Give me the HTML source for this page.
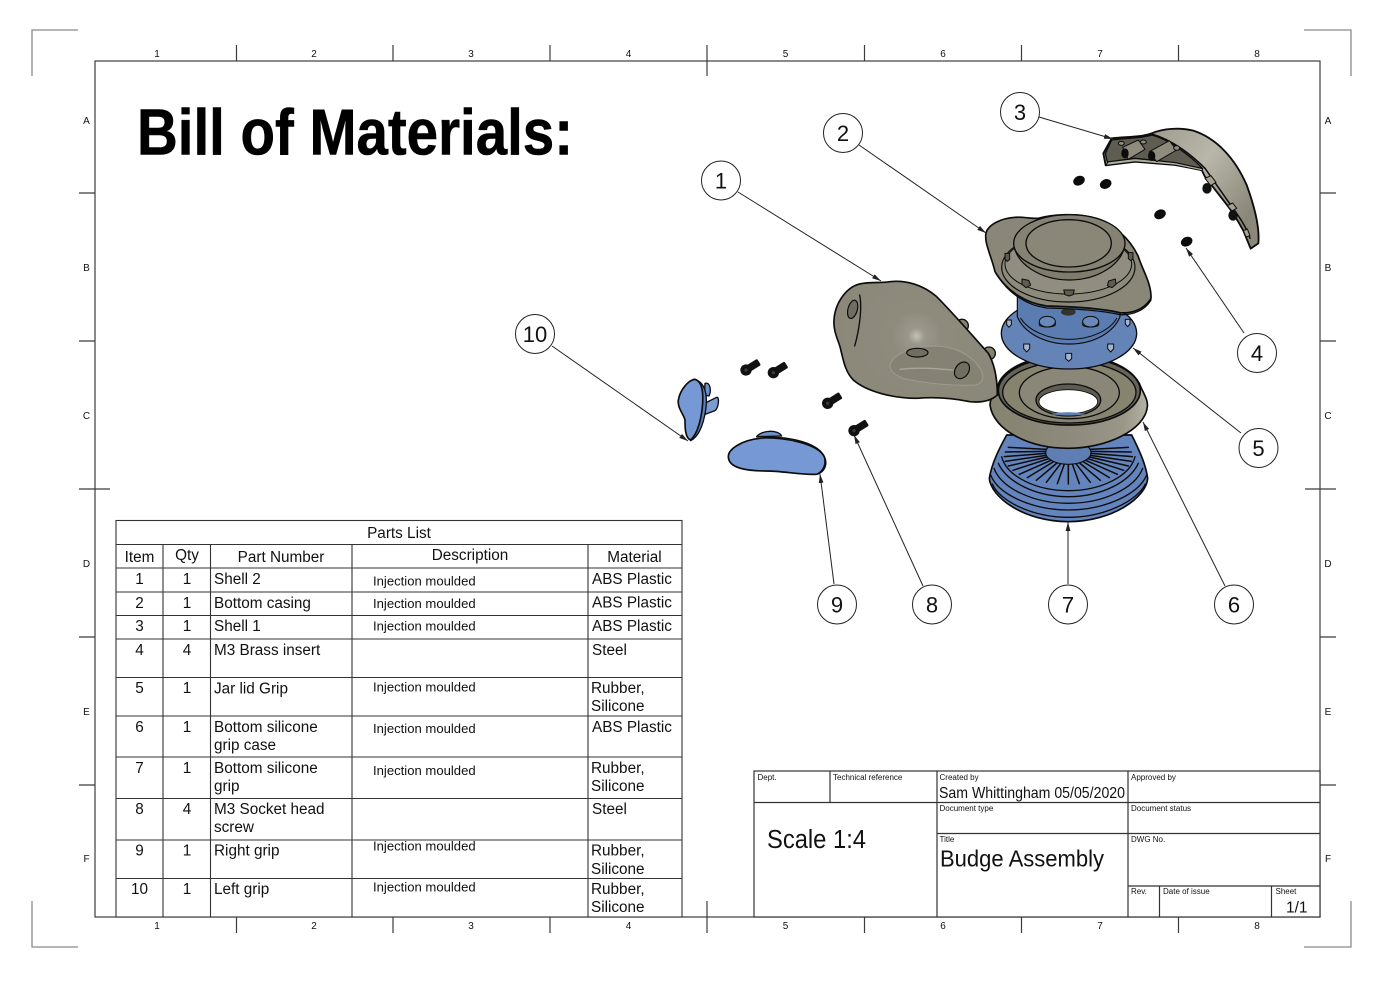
<!DOCTYPE html>
<html><head><meta charset="utf-8"><style>
html,body{margin:0;padding:0;background:#fff}
svg{display:block}
text{font-family:"Liberation Sans",sans-serif;fill:#111}
</style></head><body>
<svg width="1400" height="990" viewBox="0 0 1400 990" xmlns="http://www.w3.org/2000/svg">
<defs>
<radialGradient id="g1" gradientUnits="userSpaceOnUse" cx="770" cy="738" r="300"><stop offset="0" stop-color="#c4c2b6"/><stop offset=".08" stop-color="#9b988b"/><stop offset=".25" stop-color="#8e8b7d"/><stop offset="1" stop-color="#8a8779"/></radialGradient>
<linearGradient id="g2" x1="0" y1="0" x2="1" y2="0"><stop offset="0" stop-color="#85826f"/><stop offset=".5" stop-color="#8d8a7c"/><stop offset=".85" stop-color="#9a9789"/><stop offset="1" stop-color="#b4b2a4"/></linearGradient>
<linearGradient id="g3" x1="0" y1="0" x2="1" y2=".6"><stop offset="0" stop-color="#8f8c7e"/><stop offset=".6" stop-color="#b9b7aa"/><stop offset="1" stop-color="#8b8879"/></linearGradient>
<marker id="a" markerWidth="9" markerHeight="6" refX="9" refY="3" orient="auto" markerUnits="userSpaceOnUse"><path d="M0,.6 L9,3 L0,5.4Z" fill="#222"/></marker>
</defs>
<rect width="1400" height="990" fill="#fff"/>

<!-- crop marks -->
<g fill="none" stroke="#8a8a8a" stroke-width="1.3">
<path d="M32,76V30H78"/><path d="M1304,30H1351V76"/><path d="M32,901V947H78"/><path d="M1304,947H1351V901"/>
</g>
<!-- frame -->
<g fill="none" stroke="#3c3c3c" stroke-width="1.2">
<rect x="95" y="61" width="1225" height="856"/>
<path d="M236.500,45V61M393,45V61M550,45V61M707,45V76M864.500,45V61M1021.500,45V61M1178.500,45V61"/>
<path d="M236.500,917V933M393,917V933M550,917V933M707,901V933M864.500,917V933M1021.500,917V933M1178.500,917V933"/>
<path d="M79,193H95M79,341H95M79,489H110M79,637H95M79,785H95"/>
<path d="M1320,193H1336M1320,341H1336M1305,489H1336M1320,637H1336M1320,785H1336"/>
</g>
<g font-size="10" text-anchor="middle">
<text x="157" y="57">1</text><text x="314" y="57">2</text><text x="471" y="57">3</text><text x="628.500" y="57">4</text><text x="785.500" y="57">5</text><text x="943" y="57">6</text><text x="1100" y="57">7</text><text x="1257" y="57">8</text>
<text x="157" y="929">1</text><text x="314" y="929">2</text><text x="471" y="929">3</text><text x="628.500" y="929">4</text><text x="785.500" y="929">5</text><text x="943" y="929">6</text><text x="1100" y="929">7</text><text x="1257" y="929">8</text>
<text x="86.500" y="124">A</text><text x="86.500" y="271">B</text><text x="86.500" y="419">C</text><text x="86.500" y="567">D</text><text x="86.500" y="715">E</text><text x="86.500" y="862">F</text>
<text x="1328" y="124">A</text><text x="1328" y="271">B</text><text x="1328" y="419">C</text><text x="1328" y="567">D</text><text x="1328" y="715">E</text><text x="1328" y="862">F</text>
</g>

<text x="137" y="154.500" font-size="65" font-weight="700" textLength="436" lengthAdjust="spacingAndGlyphs" style="fill:#000;stroke:#000;stroke-width:.6">Bill of Materials:</text>

<!-- parts list -->
<g fill="none" stroke="#333" stroke-width="1.1">
<rect x="116" y="520.500" width="566" height="396.500" fill="#fff"/>
<path d="M116,544.500H682M116,568H682M116,592H682M116,615.500H682M116,639H682M116,677.500H682M116,716H682M116,757H682M116,798.500H682M116,840H682M116,878.500H682"/>
<path d="M163,544.500V917M210.500,544.500V917M352,544.500V917M588,544.500V917"/>
</g>
<g font-size="15.300">
<text x="399" y="538" text-anchor="middle">Parts List</text>
<text x="139.500" y="562" text-anchor="middle">Item</text><text x="187" y="560" text-anchor="middle">Qty</text><text x="281" y="562" text-anchor="middle">Part Number</text><text x="470" y="560" text-anchor="middle">Description</text><text x="634.500" y="562" text-anchor="middle">Material</text>
<g text-anchor="middle">
<text x="139.500" y="584">1</text><text x="187" y="584">1</text>
<text x="139.500" y="608">2</text><text x="187" y="608">1</text>
<text x="139.500" y="631">3</text><text x="187" y="631">1</text>
<text x="139.500" y="655">4</text><text x="187" y="655">4</text>
<text x="139.500" y="693">5</text><text x="187" y="693">1</text>
<text x="139.500" y="732">6</text><text x="187" y="732">1</text>
<text x="139.500" y="773">7</text><text x="187" y="773">1</text>
<text x="139.500" y="814">8</text><text x="187" y="814">4</text>
<text x="139.500" y="855.500">9</text><text x="187" y="855.500">1</text>
<text x="139.500" y="894">10</text><text x="187" y="894">1</text>
</g>
<text x="214" y="584">Shell 2</text><text x="214" y="608">Bottom casing</text><text x="214" y="631">Shell 1</text><text x="214" y="655">M3 Brass insert</text><text x="214" y="693.500">Jar lid Grip</text>
<text x="214" y="732">Bottom silicone</text><text x="214" y="750">grip case</text><text x="214" y="773">Bottom silicone</text><text x="214" y="791">grip</text><text x="214" y="814">M3 Socket head</text><text x="214" y="832">screw</text><text x="214" y="855.500">Right grip</text><text x="214" y="894">Left grip</text>
<text x="592" y="584">ABS Plastic</text><text x="592" y="607.500">ABS Plastic</text><text x="592" y="631">ABS Plastic</text><text x="592" y="655">Steel</text>
<text x="591" y="693">Rubber,</text><text x="591" y="711">Silicone</text><text x="592" y="732">ABS Plastic</text><text x="591" y="773">Rubber,</text><text x="591" y="791">Silicone</text><text x="592" y="814">Steel</text>
<text x="591" y="855.500">Rubber,</text><text x="591" y="874">Silicone</text><text x="591" y="894">Rubber,</text><text x="591" y="912">Silicone</text>
</g>
<g font-size="13.100">
<text x="373" y="585.500">Injection moulded</text><text x="373" y="608">Injection moulded</text><text x="373" y="630.500">Injection moulded</text><text x="373" y="691.500">Injection moulded</text><text x="373" y="733">Injection moulded</text><text x="373" y="775">Injection moulded</text><text x="373" y="850.500">Injection moulded</text><text x="373" y="891.500">Injection moulded</text>
</g>

<!-- title block -->
<g fill="none" stroke="#333" stroke-width="1.2">
<rect x="754" y="771" width="566" height="146" fill="#fff"/>
<path d="M754,802.500H1320M937,833.500H1320M1128,886H1320M830,771V802.500M937,771V917M1128,771V917M1159.500,886V917M1271.500,886V917"/>
</g>
<g font-size="8" fill="#333">
<text x="757.500" y="780">Dept.</text><text x="833" y="780">Technical reference</text><text x="939.500" y="780">Created by</text><text x="1131" y="780">Approved by</text>
<text x="939.500" y="811">Document type</text><text x="1131" y="811">Document status</text><text x="939.500" y="842">Title</text><text x="1131" y="842">DWG No.</text>
<text x="1131" y="894">Rev.</text><text x="1163" y="894">Date of issue</text><text x="1275.500" y="894">Sheet</text>
</g>
<text x="939" y="798" font-size="16" textLength="186" lengthAdjust="spacingAndGlyphs">Sam Whittingham 05/05/2020</text>
<text x="767" y="848" font-size="25.500" textLength="99" lengthAdjust="spacingAndGlyphs">Scale 1:4</text>
<text x="940" y="866.500" font-size="23" textLength="164" lengthAdjust="spacingAndGlyphs">Budge Assembly</text>
<text x="1286" y="912.500" font-size="15.500">1/1</text>

<!-- part 3, inserts, part 7, 6, 5, 2 : z2 coordinates -->
<g transform="translate(960,110) scale(.33333)" stroke="#0c0c0c" stroke-linejoin="round" stroke-linecap="round">
<!-- part 3 -->
<path d="M455,85 C500,80 545,82 575,70 C610,55 660,52 700,62 C770,85 825,145 860,225 C880,280 900,350 895,400 L872,416 L850,362 C835,335 820,310 805,290 L735,200 L725,180 L645,165 L525,155 L437,166 L430,130Z" fill="url(#g3)" stroke-width="5.500"/>
<path d="M455,90 C500,84 550,84 575,75 C620,85 690,135 728,176 L645,158 L525,145 L442,156 L436,130Z" fill="#5f5d52" stroke-width="4"/>
<path d="M575,72 C640,90 700,140 735,175 L805,275 C830,310 860,350 870,385" fill="none" stroke-width="4.500"/>
<path d="M445,156 L525,146 L645,158 L728,176 L726,182 L645,165 L525,155 L437,166Z" fill="#b0ae9f" stroke-width="2.500"/>
<g stroke-width="3" fill="#8f8c7e">
<path d="M488,112 L535,90 L555,118 L505,148Z"/><path d="M568,125 L628,92 L650,120 L590,155Z"/>
<ellipse cx="484" cy="100" rx="9" ry="6"/><ellipse cx="550" cy="96" rx="9" ry="6"/><ellipse cx="650" cy="114" rx="9" ry="7"/>
</g>
<ellipse cx="495" cy="130" rx="11" ry="15" fill="#0c0c0c" stroke="none"/><ellipse cx="575" cy="138" rx="11" ry="15" fill="#0c0c0c" stroke="none"/>
<g fill="#a6a395" stroke-width="3"><path d="M735,205 l18,-8 l15,20 l-16,10Z"/><path d="M802,287 l16,-8 l12,16 l-14,8Z"/><path d="M850,362 l12,-5 l8,20 l-12,4Z"/></g>
<g fill="#111" stroke="none"><ellipse cx="741" cy="235" rx="14" ry="16"/><ellipse cx="819" cy="316" rx="14" ry="16"/></g>
<!-- inserts -->
<g fill="#0c0c0c" stroke="none">
<ellipse cx="357" cy="212" rx="18" ry="14" transform="rotate(-25 357 212)"/><ellipse cx="437" cy="222" rx="18" ry="14" transform="rotate(-25 437 222)"/><ellipse cx="600" cy="313" rx="18" ry="14" transform="rotate(-25 600 313)"/><ellipse cx="680" cy="395" rx="18" ry="14" transform="rotate(-25 680 395)"/>
</g>

<!-- part 7 -->
<path d="M88,1105 C95,1060 118,1015 140,975 L515,975 C535,1015 557,1060 563,1105 C560,1160 460,1235 325,1235 C190,1235 92,1160 88,1105Z" fill="#6484bd" stroke-width="5"/>
<g fill="none" stroke-width="4">
<path d="M97,1122 C120,1175 220,1222 325,1222 C430,1222 530,1175 556,1122"/>
<path d="M92,1095 C115,1155 220,1200 325,1200 C430,1200 535,1155 560,1095"/>
<path d="M102,1075 C125,1135 220,1180 325,1180 C430,1180 525,1135 548,1075"/>
<path d="M115,1060 C140,1115 225,1160 325,1160 C425,1160 510,1115 535,1060"/>
<path d="M125,1040 C140,1100 230,1142 325,1142 C420,1142 510,1100 525,1040"/>
</g>
<g stroke-width="4.500" fill="none">
<path d="M393,1030L517,1040M392,1036L514,1054M389,1041L505,1068M384,1046L491,1081M377,1051L472,1093M369,1055L448,1103M359,1059L421,1111M348,1061L391,1117M337,1062L358,1121M325,1063L325,1122M313,1062L292,1121M302,1061L259,1117M291,1059L229,1111M281,1055L202,1103M273,1051L178,1093M266,1046L159,1081M261,1041L145,1068M258,1036L136,1054M257,1030L133,1040M392,1024L514,1026M258,1024L136,1026M390,1018L505,1012M260,1018L145,1012"/>
</g>
<ellipse cx="325" cy="1028" rx="68" ry="35" fill="#5f7eb3" stroke-width="3.500"/>
<!-- part 6 -->
<path d="M118,815 C150,760 240,735 325,735 C410,735 510,760 540,825 C550,850 565,870 562,890 C555,960 440,1015 325,1015 C205,1015 100,960 90,885 C90,860 110,840 118,815Z" fill="url(#g2)" stroke-width="5"/>
<ellipse cx="328" cy="842" rx="213" ry="103" fill="#65635a" stroke-width="5"/>
<ellipse cx="328" cy="847" rx="200" ry="92" fill="#86836f" stroke-width="4"/>
<ellipse cx="328" cy="848" rx="150" ry="78" fill="#8a8779" stroke-width="4"/>
<ellipse cx="325" cy="870" rx="97" ry="48" fill="#5e5c50" stroke-width="4"/>
<ellipse cx="325" cy="875" rx="88" ry="36" fill="#fff" stroke-width="2.500"/>
<path d="M275,912 C300,905 350,905 375,912 C360,918 290,918 275,912Z" fill="#5f7eb3" stroke="none"/>
<!-- part 5 -->
<ellipse cx="327" cy="670" rx="203" ry="107" fill="#6484b8" stroke-width="4"/>
<path d="M172,540 L172,620 C190,665 250,702 327,702 C405,702 462,665 480,620 L480,540Z" fill="#5b7cb0" stroke-width="3.500"/>
<path d="M182,625 C205,660 260,688 327,688 C395,688 450,660 470,625" fill="none" stroke-width="3"/>
<g fill="#6a89bb" stroke-width="3"><ellipse cx="262" cy="635" rx="24" ry="16"/><ellipse cx="392" cy="635" rx="24" ry="16"/></g>
<g fill="none" stroke-width="3"><path d="M238,637v8c5,8 40,8 48,0v-8M368,637v8c5,8 40,8 48,0v-8"/></g>
<g fill="#a5b5ce" stroke-width="3"><path d="M191,702h18v14l-9,10l-9,-10Z"/><path d="M317,730h18v16l-9,8l-9,-8Z"/><path d="M443,702h18v14l-9,10l-9,-10Z"/><path d="M140,630h14v14l-7,8l-7,-8Z"/><path d="M496,628h14v14l-7,8l-7,-8Z"/></g>
<ellipse cx="325" cy="606" rx="22" ry="11" fill="#34342f" stroke="none"/>
<!-- part 2 -->
<path d="M78,368 C85,345 120,325 165,322 C190,320 210,326 235,325 C280,312 350,310 395,322 C460,340 510,385 535,440 C545,475 575,520 573,565 C555,595 520,612 480,608 C420,594 340,590 260,588 C200,580 140,545 105,485 C95,440 72,400 78,368Z" fill="#8a8779" stroke-width="5"/>
<path d="M112,495 C145,550 200,586 260,594 C340,596 420,600 480,614 C520,616 555,600 573,570" fill="none" stroke-width="4"/>
<ellipse cx="325" cy="472" rx="200" ry="104" fill="#8c8a7b" stroke-width="3.500"/>
<ellipse cx="325" cy="462" rx="190" ry="90" fill="#918e81" stroke-width="3"/>
<path d="M161,400 C165,460 240,510 328,510 C416,510 491,460 495,400Z" fill="#7f7c6e" stroke-width="3.500"/>
<ellipse cx="328" cy="400" rx="167" ry="86" fill="#858274" stroke-width="4"/>
<ellipse cx="326" cy="400" rx="128" ry="71" fill="#8a8779" stroke-width="4"/>
<g fill="#5f5d52" stroke-width="3"><path d="M186,507 l20,4 l6,14 l-14,8 l-12,-10Z"/><path d="M466,507 l-20,6 l-4,14 l14,6 l12,-10Z"/><path d="M311,540 h32 l-4,14 l-12,4 l-12,-4Z"/><path d="M135,430 h14 v18 l-7,6 l-7,-6Z"/><path d="M505,428 h14 v18 l-7,6 l-7,-6Z"/></g>
</g>

<!-- part 1, screws, grips : z1 coordinates -->
<g transform="translate(660,90) scale(.33333)" stroke="#0c0c0c" stroke-linejoin="round" stroke-linecap="round">
<circle cx="906" cy="707" r="19" fill="#85826f" stroke-width="4"/>
<circle cx="987" cy="790" r="19" fill="#85826f" stroke-width="4"/>
<path d="M522,690 C525,640 560,585 610,580 C640,575 660,580 690,575 C740,570 790,585 830,620 C880,670 940,740 985,790 C1005,825 1012,870 1012,915 C990,935 960,938 930,935 C880,925 830,920 770,925 C700,925 620,905 580,870 C555,845 550,810 540,770 C530,740 520,720 522,690Z" fill="url(#g1)" stroke-width="5"/>
<path d="M690,825 C700,790 760,768 830,768 C880,770 930,790 960,835 C975,860 970,880 945,885 C880,888 790,880 730,865 C705,855 690,845 690,825Z" fill="#858273" stroke="#9d9b8e" stroke-width="3"/>
<path d="M720,838 C790,830 840,838 880,840" fill="none" stroke="#a8a699" stroke-width="4"/>
<ellipse cx="772" cy="788" rx="32" ry="13" fill="#706e61" stroke-width="3.500"/>
<ellipse cx="906" cy="841" rx="20" ry="27" transform="rotate(35 906 841)" fill="#706e61" stroke-width="3.500"/>
<ellipse cx="578" cy="658" rx="14" ry="28" transform="rotate(15 578 658)" fill="#706e61" stroke-width="3.500"/>
<path d="M599,615 C608,660 595,730 584,768" fill="none" stroke-width="4"/>
<!-- screws -->
<g fill="#111" stroke="none">
<g transform="translate(258,840) rotate(-32)"><circle r="17"/><rect x="6" y="-11" width="40" height="22" rx="4"/><circle r="5" fill="#3a3a3a"/></g>
<g transform="translate(340,848) rotate(-32)"><circle r="17"/><rect x="6" y="-11" width="40" height="22" rx="4"/><circle r="5" fill="#3a3a3a"/></g>
<g transform="translate(503,940) rotate(-32)"><circle r="17"/><rect x="6" y="-11" width="40" height="22" rx="4"/><circle r="5" fill="#3a3a3a"/></g>
<g transform="translate(582,1022) rotate(-32)"><circle r="17"/><rect x="6" y="-11" width="40" height="22" rx="4"/><circle r="5" fill="#3a3a3a"/></g>
</g>
<!-- part 10 -->
<path d="M135,880 C150,875 155,900 147,918 L133,915Z" fill="#6d91cc" stroke-width="4"/>
<path d="M130,942 L170,922 C180,920 175,955 165,962 L130,975Z" fill="#7b9bd3" stroke-width="4"/>
<path d="M100,868 C130,872 145,905 137,960 C130,1005 115,1040 92,1052Z" fill="#5f81bb" stroke-width="4"/>
<path d="M55,930 C60,900 85,870 105,868 C125,875 130,900 128,940 C125,980 115,1030 92,1050 C75,1045 75,1010 75,990 C70,970 52,955 55,930Z" fill="#7699d6" stroke-width="5"/>
<!-- part 9 -->
<path d="M290,1040 C305,1020 355,1018 365,1038Z" fill="#6d91cc" stroke-width="4"/>
<path d="M205,1100 C205,1075 250,1050 300,1045 C370,1035 465,1055 490,1095 C505,1120 495,1145 470,1153 C420,1155 370,1143 320,1143 C260,1143 205,1135 205,1100Z" fill="#7699d6" stroke-width="5"/>
<path d="M290,1045 C370,1040 470,1060 493,1100 C498,1125 490,1140 475,1150" fill="none" stroke-width="3.500"/>
</g>

<!-- leaders -->
<g stroke="#222" stroke-width="1" fill="none">
<line x1="738" y1="192" x2="881" y2="281" marker-end="url(#a)"/>
<line x1="859" y1="145" x2="986" y2="233" marker-end="url(#a)"/>
<line x1="1039" y1="117" x2="1113" y2="139" marker-end="url(#a)"/>
<line x1="1244" y1="333" x2="1186" y2="248" marker-end="url(#a)"/>
<line x1="1241" y1="433" x2="1133" y2="348" marker-end="url(#a)"/>
<line x1="1225" y1="586" x2="1143" y2="422" marker-end="url(#a)"/>
<line x1="1068" y1="584" x2="1068" y2="522" marker-end="url(#a)"/>
<line x1="923" y1="586" x2="854" y2="435" marker-end="url(#a)"/>
<line x1="834" y1="584" x2="820" y2="474" marker-end="url(#a)"/>
<line x1="552" y1="346" x2="688" y2="441" marker-end="url(#a)"/>
</g>
<!-- balloons -->
<g fill="#fff" stroke="#222" stroke-width="1">
<circle cx="721" cy="180.500" r="19.500"/><circle cx="843" cy="133" r="19.500"/><circle cx="1020" cy="112" r="19.500"/><circle cx="1257" cy="353" r="19.500"/><circle cx="1258.500" cy="448" r="19.500"/><circle cx="1234" cy="604.500" r="19.500"/><circle cx="1068" cy="604.500" r="19.500"/><circle cx="932" cy="604.500" r="19.500"/><circle cx="837" cy="604.500" r="19.500"/><circle cx="535" cy="334" r="19.500"/>
</g>
<g font-size="22" text-anchor="middle">
<text x="721" y="188.500">1</text><text x="843" y="141">2</text><text x="1020" y="120">3</text><text x="1257" y="361">4</text><text x="1258.500" y="456">5</text><text x="1234" y="612.500">6</text><text x="1068" y="612.500">7</text><text x="932" y="612.500">8</text><text x="837" y="612.500">9</text><text x="535" y="342">10</text>
</g>
</svg>
</body></html>
